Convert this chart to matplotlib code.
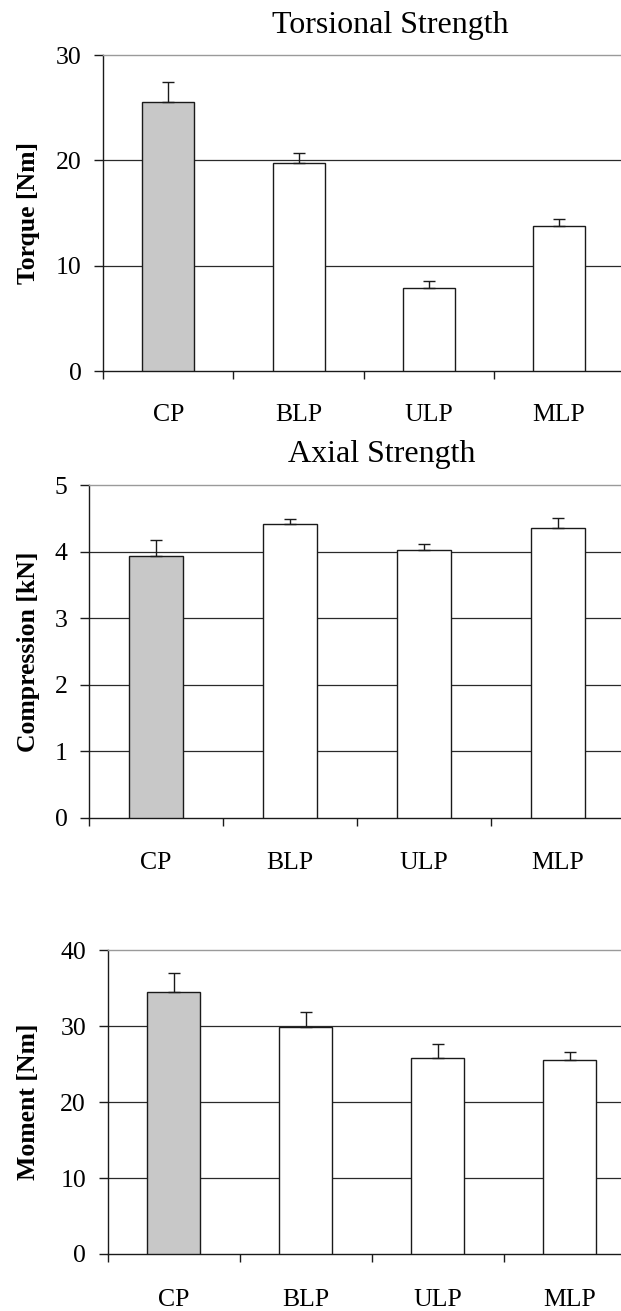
import numpy as np
import matplotlib
matplotlib.use("Agg")
import matplotlib.pyplot as plt

plt.rcParams['font.family'] = ['Liberation Serif', 'DejaVu Serif']

# --- data ---
categories = ['CP', 'BLP', 'ULP', 'MLP']
bar_colors = ['#c8c8c8', 'white', 'white', 'white']

torque = [25.5, 19.7, 7.85, 13.75]
torque_err = [1.9, 1.0, 0.7, 0.65]

compression = [3.94, 4.42, 4.02, 4.36]
compression_err = [0.23, 0.07, 0.10, 0.15]

moment = [34.5, 29.9, 25.8, 25.5]
moment_err = [2.5, 1.95, 1.8, 1.15]

W, H = 621, 1311
fig = plt.figure(figsize=(W / 100, H / 100), dpi=100)


def add_px_axes(left, top, right, bottom):
    return fig.add_axes([left / W, 1 - bottom / H, (right - left) / W, (bottom - top) / H])


def bar_panel(ax, values, errs, ymax, ystep, ylabel, label_x, xpad):
    x = np.arange(len(categories))
    ax.set_xlim(-0.5, len(categories) - 0.5)
    ax.set_ylim(0, ymax)
    yticks = np.arange(0, ymax + ystep / 2, ystep)
    # gridlines (top one is drawn by the grey top spine)
    for v in yticks[1:-1]:
        ax.axhline(v, color='#2a2a2a', lw=0.9, zorder=1)

    ax.bar(x, values, width=0.4, color=bar_colors, edgecolor='#1a1a1a', lw=1.0, zorder=3)
    ax.errorbar(x, values, yerr=[np.zeros(len(errs)), errs], fmt='none',
                ecolor='#1a1a1a', elinewidth=1.0, capsize=4, capthick=1.0, zorder=4)

    ax.spines['right'].set_visible(False)
    ax.spines['top'].set_color('#9a9a9a')
    for s in ['left', 'bottom']:
        ax.spines[s].set_color('#1a1a1a')
    for s in ['top', 'left', 'bottom']:
        ax.spines[s].set_linewidth(1.0)

    ax.set_yticks(yticks)
    ax.set_yticklabels([str(int(v)) for v in yticks])
    ax.tick_params(axis='y', direction='out', length=6.5, width=1.0, pad=9,
                   labelsize=18.5, color='#1a1a1a')

    ax.set_xticks(x - 0.5)
    ax.set_xticklabels([''] * len(x))
    ax.set_xticks(x, minor=True)
    ax.set_xticklabels(categories, minor=True)
    ax.tick_params(axis='x', which='major', direction='out', length=6, width=1.0, color='#1a1a1a')
    ax.tick_params(axis='x', which='minor', length=0, pad=xpad, labelsize=18.5)

    ax.set_ylabel(ylabel, fontsize=18.5, fontweight='bold')
    bb = ax.get_position()
    ax.yaxis.set_label_coords((label_x / W - bb.x0) / bb.width, 0.5)


# Torsional
ax1 = add_px_axes(103.3, 55, 624, 371)
bar_panel(ax1, torque, torque_err, 30, 10, 'Torque [Nm]', 40, 23.5)
fig.text(390 / W, 1 - 33.3 / H, 'Torsional Strength', fontsize=23, ha='center', va='baseline')

# Axial
ax2 = add_px_axes(89.2, 485.3, 625, 817.7)
bar_panel(ax2, compression, compression_err, 5, 1, 'Compression [kN]', 40, 24.5)
fig.text(382 / W, 1 - 461.7 / H, 'Axial Strength', fontsize=23, ha='center', va='baseline')

# Bending
ax3 = add_px_axes(107.6, 950.3, 635.7, 1254)
bar_panel(ax3, moment, moment_err, 40, 10, 'Moment [Nm]', 40.5, 25.5)

fig.savefig('out.png', dpi=100)
